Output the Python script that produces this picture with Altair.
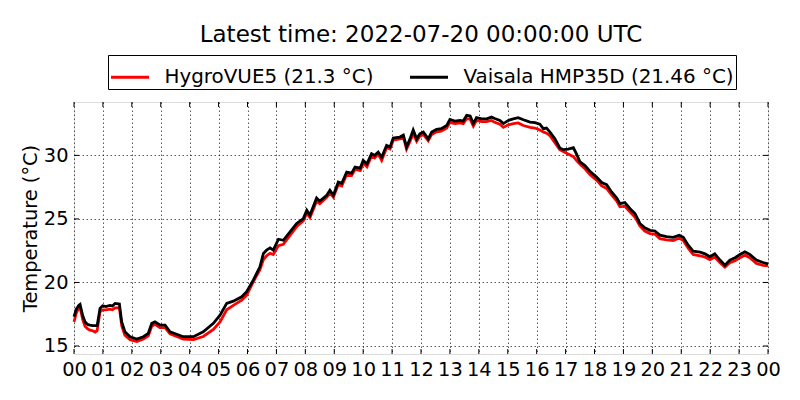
import altair as alt
import pandas as pd

HOURS = [0.00, 0.08, 0.17, 0.21, 0.30, 0.38, 0.47, 0.55, 0.65, 0.73, 0.80, 0.90, 0.99, 1.10, 1.24, 1.33,
         1.42, 1.57, 1.65, 1.76, 1.94, 2.17, 2.40, 2.57, 2.69, 2.80, 2.97, 3.15, 3.32, 3.55, 3.78, 4.13,
         4.47, 4.82, 5.05, 5.28, 5.51, 5.80, 5.97, 6.20, 6.43, 6.55, 6.66, 6.78, 6.89, 7.07, 7.24, 7.47,
         7.70, 7.93, 8.05, 8.16, 8.39, 8.50, 8.74, 8.85, 8.97, 9.14, 9.26, 9.43, 9.60, 9.72, 9.90, 10.00,
         10.13, 10.29, 10.40, 10.52, 10.64, 10.81, 10.93, 11.04, 11.27, 11.39, 11.50, 11.62, 11.73, 11.85,
         11.96, 12.08, 12.25, 12.37, 12.54, 12.70, 12.89, 13.00, 13.17, 13.35, 13.46, 13.58, 13.70, 13.81,
         13.92, 14.10, 14.27, 14.44, 14.55, 14.73, 14.85, 15.02, 15.19, 15.36, 15.54, 15.77, 15.94, 16.11,
         16.23, 16.34, 16.46, 16.63, 16.80, 16.92, 17.09, 17.27, 17.38, 17.50, 17.67, 17.84, 18.07, 18.25,
         18.42, 18.59, 18.77, 18.88, 19.05, 19.23, 19.40, 19.57, 19.74, 19.92, 20.09, 20.26, 20.49, 20.72,
         20.93, 21.07, 21.24, 21.41, 21.65, 21.82, 21.99, 22.16, 22.34, 22.51, 22.68, 22.86, 23.03, 23.20,
         23.37, 23.60, 23.83, 24.00]

VAISALA = [17.3, 17.9, 18.2, 18.27, 17.4, 16.9, 16.7, 16.65, 16.6, 16.6, 16.6, 17.96, 18.17, 18.1, 18.2, 18.15,
           18.35, 18.3, 16.9, 16.12, 15.73, 15.55, 15.73, 16.0, 16.78, 16.9, 16.65, 16.65, 16.12, 15.92, 15.73, 15.73,
           16.12, 16.78, 17.43, 18.35, 18.53, 18.87, 19.27, 20.18, 21.23, 22.28, 22.54, 22.72, 22.54, 23.4, 23.32, 23.98,
           24.64, 25.03, 25.68, 25.3, 26.65, 26.4, 26.86, 27.25, 26.86, 27.9, 27.8, 28.69, 28.6, 29.08, 29.0, 29.6,
           29.33, 30.13, 30.0, 30.26, 29.85, 30.79, 30.65, 31.37, 31.44, 31.6, 30.66, 31.3, 32.0, 31.3,
           31.7, 31.83, 31.3, 31.83, 32.04, 32.1, 32.36, 32.83, 32.7, 32.75, 32.7, 33.15, 33.1, 32.5,
           32.97, 32.87, 32.87, 33.01, 32.9, 32.75, 32.5, 32.75, 32.87, 32.97, 32.8, 32.62, 32.57, 32.45,
           32.1, 32.15, 31.83, 31.3, 30.58, 30.45, 30.5, 30.6, 30.1, 29.48, 29.2, 28.75, 28.3, 27.86,
           27.7, 27.12, 26.65, 26.2, 26.28, 25.8, 25.42, 24.64, 24.3, 24.1, 24.05, 23.72, 23.6, 23.55,
           23.72, 23.55, 22.93, 22.46, 22.38, 22.25, 22.02, 22.25, 21.76, 21.36, 21.76, 21.95, 22.2, 22.41,
           22.2, 21.76, 21.57, 21.46]

HYGROVUE = [16.9, 17.6, 18.0, 18.05, 17.1, 16.55, 16.35, 16.25, 16.2, 16.1, 16.2, 17.7, 17.85, 17.85, 17.9, 17.85,
            18.0, 18.0, 16.6, 15.85, 15.5, 15.35, 15.55, 15.8, 16.55, 16.7, 16.45, 16.45, 15.95, 15.75, 15.55, 15.5,
            15.75, 16.3, 16.9, 17.85, 18.2, 18.6, 19.0, 20.05, 21.0, 21.8, 22.1, 22.3, 22.2, 22.9, 23.0, 23.7,
            24.4, 24.85, 25.45, 25.1, 26.4, 26.2, 26.7, 27.05, 26.7, 27.7, 27.6, 28.5, 28.4, 28.9, 28.8, 29.4,
            29.1, 29.95, 29.8, 30.1, 29.6, 30.6, 30.5, 31.2, 31.3, 31.45, 30.5, 31.1, 31.7, 31.1,
            31.5, 31.65, 31.15, 31.65, 31.85, 31.9, 32.15, 32.6, 32.5, 32.55, 32.5, 32.9, 32.85, 32.3,
            32.75, 32.65, 32.65, 32.75, 32.6, 32.45, 32.2, 32.4, 32.5, 32.55, 32.35, 32.2, 32.15, 32.0,
            31.85, 31.75, 31.55, 31.0, 30.45, 30.3, 30.1, 29.9, 29.6, 29.3, 28.95, 28.5, 28.05, 27.6,
            27.4, 26.9, 26.4, 25.95, 26.0, 25.55, 25.15, 24.45, 24.05, 23.85, 23.8, 23.45, 23.35, 23.3,
            23.5, 23.3, 22.7, 22.2, 22.1, 22.0, 21.8, 22.0, 21.55, 21.2, 21.55, 21.7, 21.95, 22.15,
            21.95, 21.5, 21.35, 21.3]

SERIES = ["HygroVUE5 (21.3 °C)", "Vaisala HMP35D (21.46 °C)"]
COLORS = ["#ff0000", "#000000"]
X_TICKS = list(range(0, 25))
Y_TICKS = [15, 20, 25, 30]
TITLE = "Latest time: 2022-07-20 00:00:00 UTC"
Y_TITLE = "Temperature (°C)"

W, H = 694, 252
FONT = "DejaVu Sans"

df_h = pd.DataFrame({"hour": HOURS, "temp": HYGROVUE, "series": SERIES[0]})
df_v = pd.DataFrame({"hour": HOURS, "temp": VAISALA, "series": SERIES[1]})
df_xt = pd.DataFrame({"hour": X_TICKS})
df_yt = pd.DataFrame({"temp": Y_TICKS})

xscale = alt.Scale(domain=[0, 24], nice=False, zero=False)
yscale = alt.Scale(domain=[14.37, 34.2], nice=False, zero=False)

xaxis = alt.Axis(values=X_TICKS, title=None, ticks=False, domain=False,
                 labelExpr="((datum.value % 24) < 10 ? '0' : '') + (datum.value % 24)",
                 labelFontSize=19.4, labelFont=FONT, labelColor="black", labelPadding=6,
                 labelOverlap=False, labelFlush=False,
                 grid=True, gridColor="black", gridDash=[1.5, 2.5], gridWidth=0.8, gridOpacity=0.8)
yaxis = alt.Axis(values=Y_TICKS, title=Y_TITLE, ticks=False, domain=False,
                 labelFontSize=19.4, labelFont=FONT, labelColor="black", labelPadding=6,
                 titleFontSize=19.4, titleFont=FONT, titleFontWeight="normal", titleColor="black",
                 titlePadding=3,
                 grid=True, gridColor="black", gridDash=[1.5, 2.5], gridWidth=0.8, gridOpacity=0.8)

legend = alt.Legend(title=None, orient="none", legendX=34, legendY=-47, direction="horizontal",
                    symbolType="stroke", symbolSize=1444, symbolStrokeWidth=3,
                    labelFontSize=19.9, labelFont=FONT, labelColor="black", labelOffset=14,
                    labelLimit=400, columnPadding=30, padding=1.5,
                    strokeColor="black", fillColor="white", cornerRadius=0)

color = alt.Color("series:N", scale=alt.Scale(domain=SERIES, range=COLORS), legend=legend)

red = alt.Chart(df_h).mark_line(strokeWidth=2.8).encode(
    x=alt.X("hour:Q", scale=xscale, axis=xaxis),
    y=alt.Y("temp:Q", scale=yscale, axis=yaxis),
    color=color,
)
black = alt.Chart(df_v).mark_line(strokeWidth=2.8).encode(
    x=alt.X("hour:Q", scale=xscale, axis=xaxis),
    y=alt.Y("temp:Q", scale=yscale, axis=yaxis),
    color=color,
)

tick_len = 5
xt_bottom = alt.Chart(df_xt).mark_rule(color="black", strokeWidth=1).encode(
    x=alt.X("hour:Q", scale=xscale, axis=xaxis), y=alt.value(H - tick_len), y2=alt.value(H))
xt_top = alt.Chart(df_xt).mark_rule(color="black", strokeWidth=1).encode(
    x=alt.X("hour:Q", scale=xscale, axis=xaxis), y=alt.value(0), y2=alt.value(tick_len))
yt_left = alt.Chart(df_yt).mark_rule(color="black", strokeWidth=1).encode(
    y=alt.Y("temp:Q", scale=yscale, axis=yaxis), x=alt.value(0), x2=alt.value(tick_len))
yt_right = alt.Chart(df_yt).mark_rule(color="black", strokeWidth=1).encode(
    y=alt.Y("temp:Q", scale=yscale, axis=yaxis), x=alt.value(W - tick_len), x2=alt.value(W))

chart = alt.layer(red, black, xt_bottom, xt_top, yt_left, yt_right).properties(
    width=W, height=H,
    padding={"left": 66, "top": 94, "right": 24, "bottom": 38},
    autosize=alt.AutoSizeParams(type="none"),
    title=alt.TitleParams(TITLE, font=FONT, fontSize=23, fontWeight="normal", color="black",
                          anchor="middle", offset=8),
).configure_view(stroke="black", strokeWidth=1.2).configure(background="white")

chart.save("out.html", embed_options={"renderer": "svg", "actions": False})
